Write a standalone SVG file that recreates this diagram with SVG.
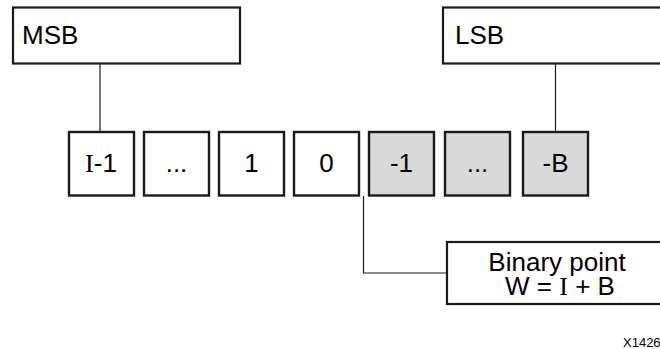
<svg xmlns="http://www.w3.org/2000/svg" width="660" height="349" viewBox="0 0 660 349">
<style>
.box{fill:#fff;stroke:#1a1a1a;stroke-width:2.2}
.bit{fill:#fff;stroke:#1a1a1a;stroke-width:2.4}
.frac{fill:#d9d9d9}
.t{font-family:"Liberation Sans",Arial,sans-serif;font-size:26px;fill:#000}
.c{text-anchor:middle}
.serif{font-family:"Liberation Serif","Times New Roman",serif}
.conn{fill:none;stroke:#1a1a1a;stroke-width:1.2}
</style>
<rect width="660" height="349" fill="#fff"/>
<g id="connectors">
<line class="conn" x1="100" y1="63" x2="100" y2="132"/>
<line class="conn" x1="555.5" y1="63" x2="555.5" y2="132"/>
<polyline class="conn" points="363.5,196 363.5,273 447,273"/>
</g>
<g id="msb">
<rect class="box" x="13" y="7.5" width="227" height="56"/>
<text class="t" x="22" y="43.5">MSB</text>
</g>
<g id="lsb">
<rect class="box" x="443" y="7.5" width="230" height="56"/>
<text class="t" x="455" y="43.5">LSB</text>
</g>
<g id="bit-i-1">
<rect class="bit" x="69" y="132" width="65" height="63.5"/>
<text class="t c" x="101" y="172"><tspan class="serif">I</tspan>-1</text>
</g>
<g id="bit-dots-int">
<rect class="bit" x="144" y="132" width="65" height="63.5"/>
<text class="t c" x="176.5" y="172">...</text>
</g>
<g id="bit-1">
<rect class="bit" x="219" y="132" width="65" height="63.5"/>
<text class="t c" x="251.5" y="172">1</text>
</g>
<g id="bit-0">
<rect class="bit" x="294" y="132" width="65" height="63.5"/>
<text class="t c" x="326.5" y="172">0</text>
</g>
<g id="bit-m1">
<rect class="bit frac" x="369" y="132" width="65" height="63.5"/>
<text class="t c" x="401.5" y="172">-1</text>
</g>
<g id="bit-dots-frac">
<rect class="bit frac" x="445" y="132" width="65" height="63.5"/>
<text class="t c" x="477.5" y="172">...</text>
</g>
<g id="bit-mb">
<rect class="bit frac" x="523" y="132" width="65" height="63.5"/>
<text class="t c" x="555.5" y="172">-B</text>
</g>
<g id="binary-point">
<rect class="box" x="447" y="242" width="226" height="62"/>
<text class="t c" x="557" y="271">Binary point</text>
<text class="t c" x="560" y="295">W = <tspan class="serif">I</tspan> + B</text>
</g>
<text font-family="Liberation Sans,Arial,sans-serif" font-size="13" x="623" y="346.5">X1426</text>
</svg>
